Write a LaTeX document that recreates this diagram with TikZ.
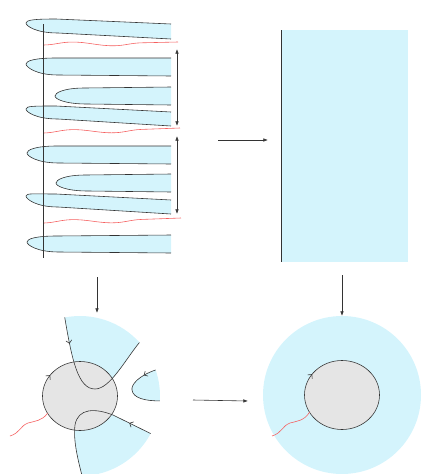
\documentclass[tikz,border=0pt]{standalone}
\usepackage{tikz}
\usetikzlibrary{arrows.meta,calc,decorations.pathmorphing,decorations.markings}

\definecolor{sheet}{RGB}{212,244,252}
\definecolor{disc}{RGB}{229,229,229}
\definecolor{cut}{RGB}{245,95,95}

% one tongue of the stack: tip x, tip y, top y near tip, top y at right, bottom y near tip, bottom y at right
\newcommand{\tongue}[6]{%
  \fill[sheet] (171,#4) -- (#1+30,#3) .. controls (#1+8,#3) and (#1,#2-3) .. (#1,#2)
    .. controls (#1,#2+3) and (#1+10,#5) .. (#1+32,#5) -- (171,#6) -- cycle;
  \draw[rim] (171,#4) -- (#1+30,#3) .. controls (#1+8,#3) and (#1,#2-3) .. (#1,#2)
    .. controls (#1,#2+3) and (#1+10,#5) .. (#1+32,#5) -- (171,#6);}

\begin{document}
\begin{tikzpicture}[x=0.03cm,y=-0.03cm,
  rim/.style={draw=black!80,line width=0.5pt},
  cutline/.style={draw=cut,line width=0.5pt},
  wavy/.style={cutline,decorate,decoration={snake,segment length=2.6cm,amplitude=0.07cm}},
  bigarrow/.style={rim,-{Latex[length=4pt,width=3pt]}},
  twoway/.style={rim,{Latex[length=4pt,width=3pt]}-{Latex[length=4pt,width=3pt]}},
  flowline/.style={rim,postaction={decorate},
    decoration={markings,mark=at position #1 with {\arrow{Straight Barb[length=2.5pt,width=5pt]}}}}]
\useasboundingbox (0,0) rectangle (423,474);

% stack of tongues
\tongue{26}{23}{19}{24}{33}{39}
\tongue{26}{64}{58}{58}{75}{76}
\tongue{55}{96}{88}{87}{104}{105}
\tongue{26}{109}{106}{112}{119}{126}
\tongue{27}{153}{146}{146}{163}{164}
\tongue{56}{183}{175}{174}{191}{192}
\tongue{26}{196}{194}{200}{207}{214}
\tongue{27}{242}{236}{235}{252}{253}
\draw[rim] (43,24) -- (43,258);

\draw[wavy] (44,45) -- (178,42);
\draw[wavy] (44,133) -- (180,128);
\draw[wavy] (44,223) -- (181,218);

\coordinate (p1) at (177,49);
\coordinate (p2) at (177,126);
\coordinate (p3) at (177,136);
\coordinate (p4) at (177,214);
\draw[twoway] (p1) -- (p2);
\draw[twoway] (p3) -- (p4);

% limit sheet
\fill[sheet] (281,30) rectangle (408,262);
\draw[rim] (281,30) -- (281,262);

% pieces round the disc
\coordinate (O) at (80,396);
\coordinate (a1) at ($(O)+(-101:80)$);
\coordinate (a2) at ($(O)+(-42:80)$);
\coordinate (b1) at ($(O)+(-19:80)$);
\coordinate (b2) at ($(O)+(3.5:80)$);
\coordinate (c1) at ($(O)+(28:80)$);
\coordinate (c2) at ($(O)+(88.5:80)$);
\fill[sheet] (a1) .. controls (72,360) and (78,389) .. (95,389) .. controls (110,389) and (125,360) .. (a2)
  arc[start angle=-42,end angle=-101,radius=80] -- cycle;
\fill[sheet] (b1) .. controls (138,376) and (131,385) .. (132,390) .. controls (133,398) and (145,401) .. (b2)
  arc[start angle=3.5,end angle=-19,radius=80] -- cycle;
\fill[sheet] (c1) -- (113,415) .. controls (95,408) and (78,408) .. (75,425) .. controls (73,440) and (78,460) .. (c2)
  arc[start angle=88.5,end angle=28,radius=80] -- cycle;
\draw[rim,fill=disc,postaction={decorate},decoration={markings,mark=at position 0.6 with {\arrow{Straight Barb[length=2.5pt,width=5pt]}}}]
  (O) ellipse [x radius=37.5,y radius=34.5];
\draw[flowline=0.18] (a1) .. controls (72,360) and (78,389) .. (95,389) .. controls (110,389) and (125,360) .. (a2);
\draw[flowline=0.2] (b1) .. controls (138,376) and (131,385) .. (132,390) .. controls (133,398) and (145,401) .. (b2);
\draw[flowline=0.17] (c1) -- (113,415) .. controls (95,408) and (78,408) .. (75,425) .. controls (73,440) and (78,460) .. (c2);
\coordinate (t1) at ($(O)+(150:37.5 and 34.5)$);
\coordinate (e1) at (10,436);
\draw[cutline] (t1) .. controls (42,421) and (35,421) .. (28,423) .. controls (20,426) and (20,433) .. (e1);

% disc in the full sheet
\coordinate (Q) at (342,395);
\fill[sheet] (Q) circle [radius=79];
\draw[rim,fill=disc,postaction={decorate},decoration={markings,mark=at position 0.6 with {\arrow{Straight Barb[length=2.5pt,width=5pt]}}}]
  (Q) ellipse [x radius=37.5,y radius=34.5];
\coordinate (t2) at ($(Q)+(150:37.5 and 34.5)$);
\coordinate (e2) at (272,436);
\draw[cutline] (t2) .. controls (304,421) and (297,421) .. (290,423) .. controls (282,426) and (282,433) .. (e2);

% maps
\coordinate (m1) at (218,140);
\coordinate (m2) at (268,140);
\coordinate (m3) at (97,277);
\coordinate (m4) at (97,313);
\coordinate (m5) at (342,275);
\coordinate (m6) at (342,316);
\coordinate (m7) at (193,400);
\coordinate (m8) at (248,401);
\draw[bigarrow] (m1) -- (m2);
\draw[bigarrow] (m3) -- (m4);
\draw[bigarrow] (m5) -- (m6);
\draw[bigarrow] (m7) -- (m8);
\end{tikzpicture}
\end{document}
